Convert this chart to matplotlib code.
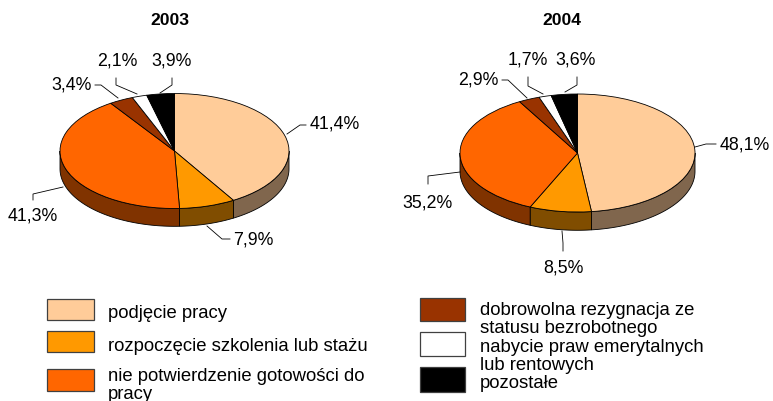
import numpy as np
import matplotlib.pyplot as plt
from matplotlib.patches import Polygon, Rectangle

plt.rcParams['font.family'] = ['Liberation Sans', 'DejaVu Sans']

# data
years = ['2003', '2004']
shares_2003 = [41.4, 7.9, 41.3, 3.4, 2.1, 3.9]
shares_2004 = [48.1, 8.5, 35.2, 2.9, 1.7, 3.6]
categories = ['podjęcie pracy',
              'rozpoczęcie szkolenia lub stażu',
              'nie potwierdzenie gotowości do\npracy',
              'dobrowolna rezygnacja ze\nstatusu bezrobotnego',
              'nabycie praw emerytalnych\nlub rentowych',
              'pozostałe']
colors = ['#FFCC99', '#FF9900', '#FF6600', '#993300', '#FFFFFF', '#000000']

W, H = 773, 402
DEPTH = 0.31   # side wall height, in units of the vertical radius

########
# layout (pixels): pie centre and radii, title, label placement and leader lines
########
pies = [
    dict(shares=shares_2003, cx=174.5, cy=152, rx=114.5, ry=57.5, title_x=170,
         label_xy=[(335, 124), (253, 240), (33, 216), (72, 85), (117, 61), (172, 61)],
         leaders=[[(287, 135), (300, 126), (306, 126)],
                  [(207, 227), (222, 240), (230, 240)],
                  [(63, 188), (33, 195), (33, 201)],
                  [(95, 86), (101, 86), (118, 99)],
                  [(116, 79), (116, 86), (137, 95)],
                  [(172, 79), (172, 86), (160, 94)]]),
    dict(shares=shares_2004, cx=577.5, cy=154, rx=117.5, ry=59, title_x=562,
         label_xy=[(745, 145), (563, 268), (427, 203), (478, 80), (528, 60), (576, 60)],
         leaders=[[(695, 148), (706, 145), (716, 145)],
                  [(562, 232), (563, 244), (563, 252)],
                  [(460, 173), (428, 177), (428, 185)],
                  [(502, 81), (508, 81), (527, 99)],
                  [(528, 78), (528, 87), (543, 95)],
                  [(577, 78), (577, 86), (565, 93)]]),
]


def fmt(v):
    return f"{v:.1f}%".replace('.', ',')


def darker(c, f=0.5):
    r, g, b = plt.matplotlib.colors.to_rgb(c)
    return (r * f, g * f, b * f)


fig = plt.figure(figsize=(W / 100, H / 100), dpi=100)

for p in pies:
    X, Yt, Yb = 1.05, 1.05, 1.1 + DEPTH
    pos = [(p['cx'] - X * p['rx']) / W, (H - (p['cy'] + Yb * p['ry'])) / H,
           2 * X * p['rx'] / W, (Yb + Yt) * p['ry'] / H]
    ax = fig.add_axes(pos)
    wedges, _ = ax.pie(p['shares'], colors=colors, startangle=90, counterclock=False,
                       wedgeprops=dict(edgecolor='black', linewidth=0.6, zorder=3))
    ax.set_aspect('auto')
    ax.set_xlim(-X, X)
    ax.set_ylim(-Yb, Yt)
    ax.axis('off')
    # side walls on the front half of the disc
    for w, c in zip(wedges, colors):
        t1, t2 = w.theta1, w.theta2
        for off in (-360, 0, 360):
            lo, hi = max(t1, 180 + off), min(t2, 360 + off)
            if hi <= lo:
                continue
            t = np.radians(np.linspace(lo, hi, 60))
            top = np.column_stack([np.cos(t), np.sin(t)])
            bot = np.column_stack([np.cos(t), np.sin(t) - DEPTH])[::-1]
            ax.add_patch(Polygon(np.vstack([top, bot]), closed=True, facecolor=darker(c),
                                 edgecolor='black', linewidth=0.6, zorder=2))

ov = fig.add_axes([0, 0, 1, 1])
ov.set_xlim(0, W)
ov.set_ylim(H, 0)
ov.axis('off')

for yr, p in zip(years, pies):
    ov.text(p['title_x'], 25, yr, ha='center', va='baseline', fontsize=12.6, fontweight='bold')
    for v, (x, y), ld in zip(p['shares'], p['label_xy'], p['leaders']):
        ov.text(x, y, fmt(v), ha='center', va='center', fontsize=12.8)
        xs, ys = zip(*ld)
        ov.plot(xs, ys, color='black', linewidth=0.6)

# legend
box_x = [47, 47, 47, 420, 420, 420]
box_y = [300, 332, 370, 299, 333, 368]
box_h = [21, 21, 22, 23, 24, 25]
box_w = [47, 47, 47, 45, 45, 45]
text_x = [108, 108, 108, 480, 480, 480]
text_y = [318, 351, 381, 315, 352, 388]
for i, lab in enumerate(categories):
    ov.add_patch(Rectangle((box_x[i], box_y[i]), box_w[i], box_h[i], facecolor=colors[i],
                           edgecolor='#404040', linewidth=0.9))
    for j, line in enumerate(lab.split('\n')):
        ov.text(text_x[i], text_y[i] + j * 18.3, line, ha='left', va='baseline', fontsize=13.3)

fig.savefig('out.png', dpi=100)
